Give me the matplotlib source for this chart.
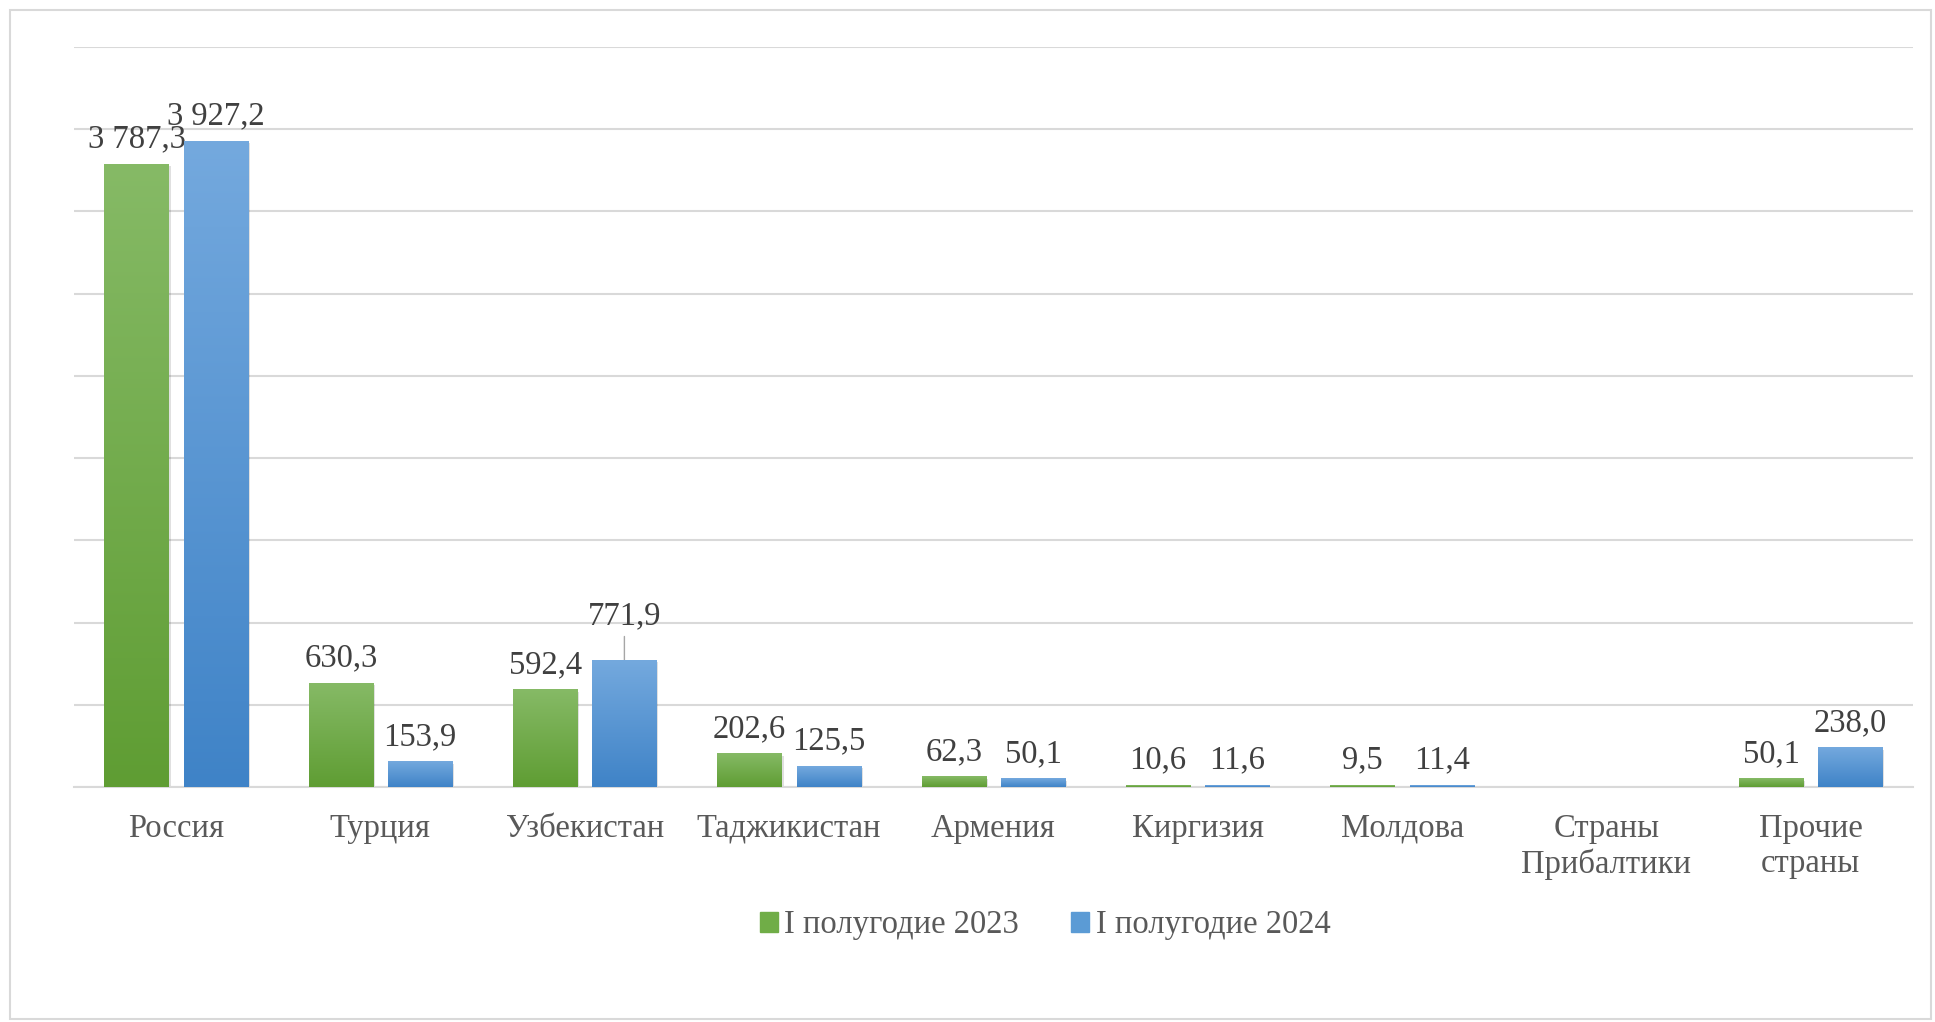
import numpy as np
import matplotlib
matplotlib.use('Agg')
from matplotlib import pyplot as plt
from matplotlib.colors import LinearSegmentedColormap
from matplotlib.patches import Rectangle
import matplotlib.transforms as mtransforms

categories = ['Россия', 'Турция', 'Узбекистан', 'Таджикистан', 'Армения',
              'Киргизия', 'Молдова', 'Страны\nПрибалтики', 'Прочие\nстраны']
h1_2023 = [3787.3, 630.3, 592.4, 202.6, 62.3, 10.6, 9.5, None, 50.1]
h1_2024 = [3927.2, 153.9, 771.9, 125.5, 50.1, 11.6, 11.4, None, 238.0]
series_names = ['I полугодие 2023', 'I полугодие 2024']


def fmt(v):
    s = '{:,.1f}'.format(v)
    return s.replace(',', ' ').replace('.', ',')


plt.rcParams['font.family'] = 'serif'
plt.rcParams['font.serif'] = ['Liberation Serif', 'DejaVu Serif']

fig = plt.figure(figsize=(19.35, 10.22), dpi=100)
ax = fig.add_axes([0.0382, 0.2299, 0.9504, 0.7241])

# outer chart frame
fig.patches.append(Rectangle((10 / 1935, 3 / 1022), 1921 / 1935, 1009 / 1022,
                             transform=fig.transFigure, fill=False,
                             edgecolor='#d9d9d9', linewidth=1.5))

x = np.arange(len(categories))
w = 0.314
off = 0.194
fs = 23.5
green_cm = LinearSegmentedColormap.from_list('g', ['#5f9d33', '#86ba66'])
blue_cm = LinearSegmentedColormap.from_list('b', ['#3f83c7', '#74a9de'])
grad = np.linspace(0, 1, 256).reshape(-1, 1)

shadow = mtransforms.offset_copy(ax.transData, fig=fig, x=2, y=-2, units='dots')

for vals, dx, cm, solid in [(h1_2023, -off, green_cm, '#70ad47'),
                            (h1_2024, off, blue_cm, '#5b9bd5')]:
    for i, v in enumerate(vals):
        if v is None:
            continue
        xc = x[i] + dx
        ax.bar(xc, v, w, color='#000000', alpha=0.12, zorder=2, transform=shadow)
        b = ax.bar(xc, v, w, color=solid, zorder=3)[0]
        ax.imshow(grad, cmap=cm, origin='lower', aspect='auto', zorder=3.5,
                  extent=(b.get_x(), b.get_x() + b.get_width(), 0, v))

# value labels
for vals, dx in [(h1_2023, -off), (h1_2024, off)]:
    for i, v in enumerate(vals):
        if v is None:
            continue
        xc = x[i] + dx
        if categories[i] == 'Узбекистан' and dx > 0:
            ax.annotate(fmt(v), (xc, v), xytext=(0, 21), textcoords='offset points',
                        ha='center', va='bottom', fontsize=fs, color='#404040',
                        arrowprops=dict(arrowstyle='-', color='#a6a6a6', lw=1,
                                        shrinkA=2, shrinkB=0))
        else:
            ax.annotate(fmt(v), (xc, v), xytext=(0, 7), textcoords='offset points',
                        ha='center', va='bottom', fontsize=fs, color='#404040')

ax.set_xlim(-0.5, len(categories) - 0.5)
ax.set_ylim(0, 4500)
ax.set_yticks(np.arange(0, 4501, 500))
ax.yaxis.grid(True, color='#d9d9d9', linewidth=1.5, zorder=0)
ax.set_axisbelow(True)
ax.tick_params(axis='y', left=False, labelleft=False)
ax.set_xticks(x)
ax.set_xticklabels(categories, fontsize=fs, color='#595959')
ax.tick_params(axis='x', length=0, pad=19)
for s in ['top', 'right', 'left']:
    ax.spines[s].set_visible(False)
ax.spines['bottom'].set_color('#d9d9d9')
ax.spines['bottom'].set_linewidth(1.5)

handles = [Rectangle((0, 0), 1, 1, color='#70ad47'),
           Rectangle((0, 0), 1, 1, color='#5b9bd5')]
leg = fig.legend(handles, series_names, loc='center', bbox_to_anchor=(1045 / 1935, 1 - 925 / 1022),
                 ncol=2, frameon=False, fontsize=fs, handlelength=0.55, handleheight=0.55,
                 handletextpad=0.2, columnspacing=1.6)
for t in leg.get_texts():
    t.set_color('#595959')

plt.savefig('out.png', dpi=100)
